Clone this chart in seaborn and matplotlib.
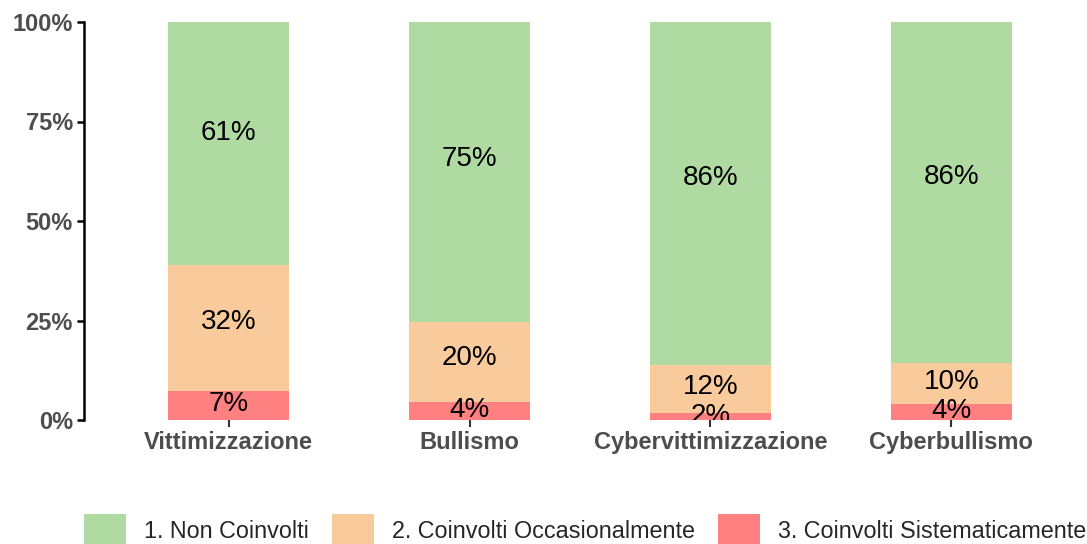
import matplotlib
matplotlib.use("Agg")
import matplotlib.pyplot as plt
import matplotlib.patches as mpatches
import seaborn as sns
import pandas as pd
import numpy as np

categories = ["Vittimizzazione", "Bullismo", "Cybervittimizzazione", "Cyberbullismo"]
series_names = ["1. Non Coinvolti", "2. Coinvolti Occasionalmente", "3. Coinvolti Sistematicamente"]
non_coinvolti = [61.1, 75.4, 86.2, 85.7]
occasionali = [31.6, 20.1, 12.0, 10.3]
sistematici = [7.3, 4.5, 1.8, 4.0]
colors = ["#AFDBA3", "#F9CB9C", "#FF8080"]
yticks = [0, 25, 50, 75, 100]
ytick_labels = ["0%", "25%", "50%", "75%", "100%"]

sns.set_theme(style="white")
plt.rcParams["font.family"] = ["Liberation Sans", "DejaVu Sans"]

df = pd.DataFrame({
    "cat": categories,
    "g": non_coinvolti,
    "o": occasionali,
    "r": sistematici,
})
df["top_r"] = df["r"]
df["top_o"] = df["r"] + df["o"]
df["top_g"] = df["r"] + df["o"] + df["g"]

W, H = 1087, 544
fig = plt.figure(figsize=(W / 100, H / 100), dpi=100)
left, right, bottom, top = 84, 1096, 420, 22
ax = fig.add_axes([left / W, 1 - bottom / H, (right - left) / W, (bottom - top) / H])

for col, c in zip(["top_g", "top_o", "top_r"], colors):
    sns.barplot(data=df, x="cat", y=col, color=c, width=0.5, ax=ax,
                saturation=1, linewidth=0, edgecolor="none", order=categories)

ax.set_xlim(-0.6, 3.6)
ax.set_ylim(0, 100)
ax.set_xlabel("")
ax.set_ylabel("")
ax.set_yticks(yticks)
ax.set_yticklabels(ytick_labels)

vfrac = 0.545
for i, row in df.iterrows():
    segs = [(row["r"], 0), (row["o"], row["r"]), (row["g"], row["r"] + row["o"])]
    for val, base in segs:
        ax.text(i, base + val * vfrac, f"{round(val):.0f}%", ha="center", va="center",
                fontsize=20, color="black", clip_on=True)

for s in ["top", "right", "bottom"]:
    ax.spines[s].set_visible(False)
ax.spines["left"].set_linewidth(1.8)
ax.spines["left"].set_color("black")
ax.tick_params(axis="y", which="both", left=True, length=5, width=1.8, color="black",
               labelsize=17, labelcolor="#4D4D4D", pad=3)
ax.tick_params(axis="x", which="both", bottom=True, length=5, width=1.5, color="#333333",
               labelsize=17, labelcolor="#4D4D4D", pad=3)
for lab in ax.get_xticklabels() + ax.get_yticklabels():
    lab.set_fontweight("bold")
ax.grid(False)

handles = [mpatches.Patch(facecolor=c, edgecolor="none", label=n) for c, n in zip(colors, series_names)]
fig.legend(handles=handles, loc="lower left", bbox_to_anchor=(84 / W, -0.005), ncol=3,
           frameon=False, fontsize=16.8, handlelength=1.8, handleheight=1.8,
           handletextpad=0.77, columnspacing=1.0, borderpad=0, borderaxespad=0)

fig.savefig("out.png", dpi=100)
